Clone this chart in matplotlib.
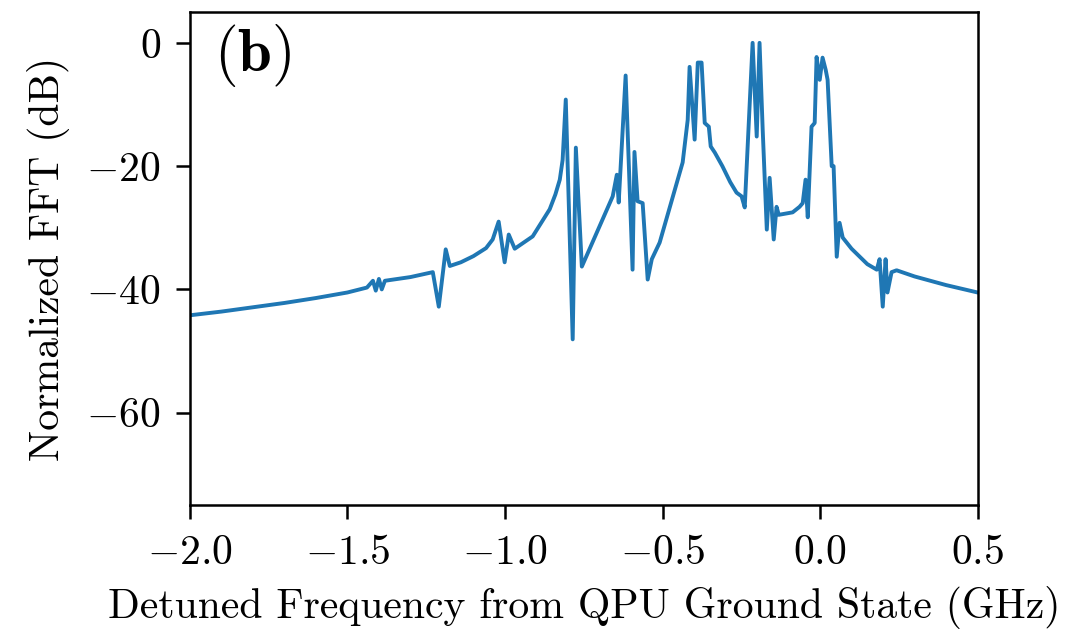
import matplotlib
matplotlib.use("Agg")
import matplotlib.pyplot as plt

# Detuned frequency (GHz) and normalized FFT (dB)
freq_ghz = [
    -2.000, -1.900, -1.800, -1.700, -1.600, -1.500, -1.438, -1.419, -1.410,
    -1.400, -1.391, -1.381, -1.300, -1.229, -1.210, -1.188, -1.175, -1.140,
    -1.100, -1.060, -1.039, -1.020, -1.001, -0.988, -0.969, -0.912, -0.858,
    -0.840, -0.826, -0.817, -0.807, -0.785, -0.775, -0.756, -0.658, -0.645,
    -0.639, -0.617, -0.595, -0.589, -0.579, -0.563, -0.547, -0.534, -0.509,
    -0.436, -0.420, -0.414, -0.398, -0.388, -0.376, -0.366, -0.353, -0.347,
    -0.334, -0.310, -0.285, -0.265, -0.249, -0.239, -0.214, -0.201, -0.192,
    -0.182, -0.169, -0.160, -0.147, -0.138, -0.131, -0.087, -0.065, -0.055,
    -0.046, -0.039, -0.027, -0.017, -0.011, -0.001, 0.008, 0.018, 0.024,
    0.037, 0.043, 0.053, 0.062, 0.072, 0.100, 0.150, 0.180, 0.189,
    0.199, 0.208, 0.214, 0.227, 0.243, 0.300, 0.400, 0.500,
]
fft_db = [
    -44.2, -43.6, -42.9, -42.2, -41.4, -40.5, -39.7, -38.6, -40.2,
    -38.3, -40.0, -38.6, -38.0, -37.2, -42.8, -33.5, -36.2, -35.6,
    -34.6, -33.3, -31.9, -29.0, -35.6, -31.1, -33.4, -31.4, -27.0,
    -24.6, -22.2, -19.0, -9.2, -48.1, -17.0, -36.3, -24.9, -21.4,
    -25.9, -5.3, -36.8, -17.7, -25.7, -26.0, -38.4, -35.1, -32.4,
    -19.4, -12.5, -3.9, -15.7, -3.2, -3.2, -13.0, -13.6, -16.8,
    -17.8, -20.0, -22.6, -24.3, -24.9, -26.7, 0.0, -15.2, 0.0,
    -14.1, -30.3, -21.9, -31.9, -26.6, -27.9, -27.5, -26.6, -26.0,
    -22.2, -28.3, -13.6, -13.0, -2.3, -6.0, -2.4, -4.4, -6.0,
    -20.0, -20.0, -34.7, -29.2, -31.6, -33.4, -35.9, -36.8, -35.1,
    -42.8, -35.1, -40.5, -37.2, -36.9, -37.9, -39.3, -40.5,
]

y_ticks = [0, -20, -40, -60]
x_ticks = [-2.0, -1.5, -1.0, -0.5, 0.0, 0.5]

plt.rcParams['font.family'] = 'serif'
plt.rcParams['font.serif'] = ['cmr10']
plt.rcParams['mathtext.fontset'] = 'cm'
plt.rcParams['axes.formatter.use_mathtext'] = True

fig = plt.figure(figsize=(10.85, 6.33), dpi=100)
ax = fig.add_axes([0.175, 0.202, 0.726, 0.779])

ax.plot(freq_ghz, fft_db, color='#1f77b4', linewidth=2.8)

ax.set_xlim(-2.0, 0.5)
ax.set_ylim(-75, 5)
ax.set_xticks(x_ticks)
ax.set_yticks(y_ticks)
ax.set_xticklabels([r'$%.1f$' % v for v in x_ticks])
ax.set_yticklabels([r'$%d$' % v for v in y_ticks])
ax.tick_params(labelsize=30, length=10, width=1.8, pad=11)
for s in ax.spines.values():
    s.set_linewidth(1.8)

ax.set_xlabel('Detuned Frequency from QPU Ground State (GHz)', fontsize=30, labelpad=10)
ax.set_ylabel('Normalized FFT (dB)', fontsize=30, labelpad=12)

ax.text(0.03, 0.98, r'$\mathbf{(b)}$', transform=ax.transAxes,
        fontsize=44, ha='left', va='top')

fig.savefig('out.png', dpi=100)
